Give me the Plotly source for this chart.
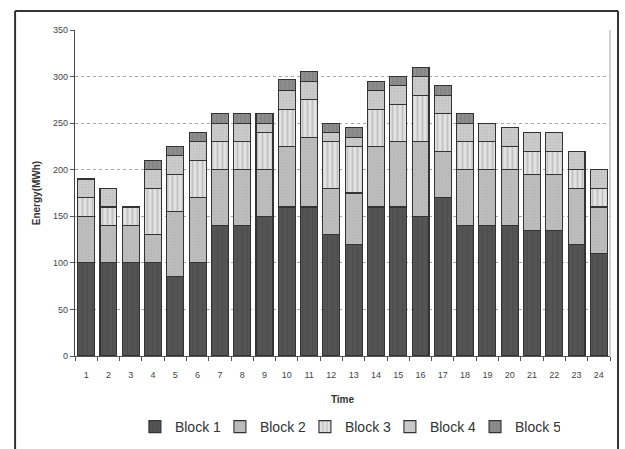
import plotly.graph_objects as go

hours = [str(h) for h in range(1, 25)]

block1 = [100, 100, 100, 100, 85, 100, 140, 140, 150, 160, 160, 130,
          120, 160, 160, 150, 170, 140, 140, 140, 135, 135, 120, 110]
block2 = [50, 40, 40, 30, 70, 70, 60, 60, 50, 65, 75, 50,
          55, 65, 70, 80, 50, 60, 60, 60, 60, 60, 60, 50]
block3 = [20, 20, 20, 50, 40, 40, 30, 30, 40, 40, 40, 50,
          50, 40, 40, 50, 40, 30, 30, 25, 25, 25, 20, 20]
block4 = [20, 20, 0, 20, 20, 20, 20, 20, 10, 20, 20, 10,
          10, 20, 20, 20, 20, 20, 20, 20, 20, 20, 20, 20]
block5 = [0, 0, 0, 10, 10, 10, 10, 10, 10, 12, 10, 10,
          10, 10, 10, 10, 10, 10, 0, 0, 0, 0, 0, 0]

series = [
    ("Block 1", block1, "#545454", dict(shape="|", fgcolor="#444444", size=5, solidity=0.25), "legend"),
    ("Block 2", block2, "#bebebe", dict(shape=".", fgcolor="#a9a9a9", size=3, solidity=0.3), "legend"),
    ("Block 3", block3, "#e2e2e2", dict(shape="|", fgcolor="#a0a0a0", size=5, solidity=0.35), "legend"),
    ("Block 4", block4, "#cccccc", dict(shape=".", fgcolor="#b2b2b2", size=3, solidity=0.3), "legend"),
    ("Block 5", block5, "#8e8e8e", dict(shape="|", fgcolor="#707070", size=4, solidity=0.3), "legend2"),
]

fig = go.Figure()
for name, vals, color, pat, leg in series:
    # empty segments are left out so they draw no outline
    yvals = [v if v else None for v in vals]
    fig.add_trace(go.Bar(
        x=hours, y=yvals, name=name, legend=leg,
        marker=dict(color=color, pattern=pat,
                    line=dict(color="#333333", width=1.1)),
    ))

font_family = "Liberation Sans, Arial, sans-serif"
legend_common = dict(
    orientation="h", xanchor="left", y=-0.218, yanchor="middle",
    font=dict(size=14, color="#333"),
    entrywidth=40, entrywidthmode="pixels",
    itemwidth=30, traceorder="normal",
    bgcolor="rgba(0,0,0,0)",
)

fig.update_layout(
    barmode="stack",
    bargap=0.24,
    width=625, height=449,
    margin=dict(l=75, r=15, t=30, b=93, autoexpand=False),
    paper_bgcolor="white",
    plot_bgcolor="white",
    font=dict(family=font_family, color="#333333"),
    xaxis=dict(
        title=dict(text="<b>Time</b>", font=dict(size=10, color="#333"), standoff=17),
        tickfont=dict(size=9, color="#444"),
        ticklabelstandoff=10,
        automargin=False,
        showline=True, linecolor="#555", linewidth=1,
        ticks="outside", tickson="boundaries", ticklen=4, tickcolor="#555",
        showgrid=False,
    ),
    yaxis=dict(
        title=dict(text="<b>Energy(MWh)</b>", font=dict(size=10, color="#333"), standoff=10),
        range=[0, 350], dtick=50,
        tickfont=dict(size=9, color="#444"),
        automargin=False,
        showline=True, linecolor="#444", linewidth=1.2,
        ticks="outside", ticklen=4, tickcolor="#555",
        showgrid=True, gridcolor="#a8a8a8", griddash="dot", gridwidth=1,
        zeroline=False,
    ),
    legend=dict(x=0.112, **legend_common),
    legend2=dict(x=0.7477, **legend_common),
    shapes=[
        # outer frame around the chart: top, left and right edges
        dict(type="line", xref="paper", yref="paper",
             x0=-0.112, x1=1.015, y0=1.058, y1=1.058,
             line=dict(color="#333", width=2)),
        dict(type="line", xref="paper", yref="paper",
             x0=-0.112, x1=-0.112, y0=1.058, y1=-0.33,
             line=dict(color="#333", width=2)),
        dict(type="line", xref="paper", yref="paper",
             x0=1.015, x1=1.015, y0=1.058, y1=-0.33,
             line=dict(color="#333", width=2)),
        # right edge of the plotting area
        dict(type="line", xref="paper", yref="paper",
             x0=1, x1=1, y0=0, y1=1,
             line=dict(color="#aaa", width=1)),
    ],
)

fig.write_html("out.html")
